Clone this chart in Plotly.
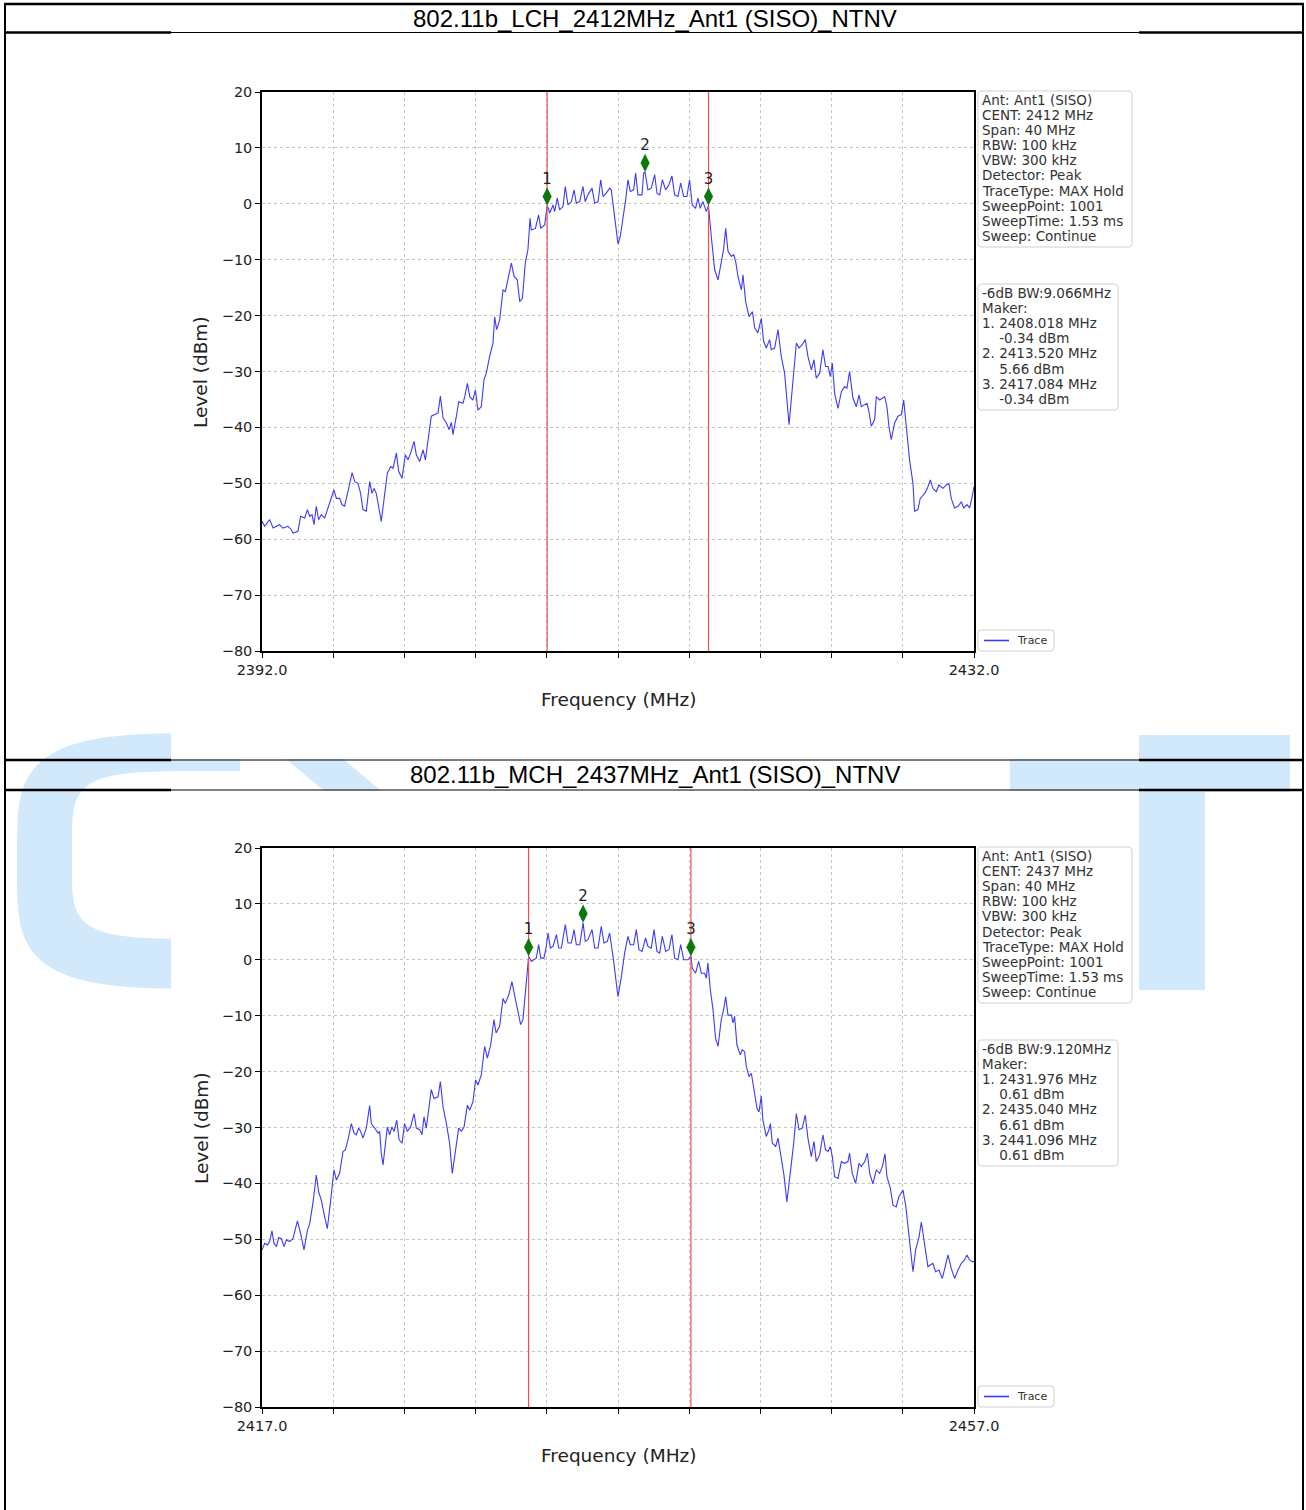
import numpy as np
import plotly.graph_objects as go

W, H = 1306, 1510

# ---------------- data ----------------
titles = ["802.11b_LCH_2412MHz_Ant1 (SISO)_NTNV", "802.11b_MCH_2437MHz_Ant1 (SISO)_NTNV"]
center_mhz = [2412, 2437]
span_mhz = 40
y_tick_values = [20, 10, 0, -10, -20, -30, -40, -50, -60, -70, -80]
y_range = [-80, 20]
bw_text = ["9.066MHz", "9.120MHz"]
marker_labels = ["1", "2", "3"]
legend_label = "Trace"

lch_marker_freq = [2408.018, 2413.520, 2417.084]
lch_marker_level = [-0.34, 5.66, -0.34]
mch_marker_freq = [2431.976, 2435.040, 2441.096]
mch_marker_level = [0.61, 6.61, 0.61]

settings_lines = ["Ant: Ant1 (SISO)", "CENT: {cent} MHz", "Span: 40 MHz", "RBW: 100 kHz",
                  "VBW: 300 kHz", "Detector: Peak", "TraceType: MAX Hold",
                  "SweepPoint: 1001", "SweepTime: 1.53 ms", "Sweep: Continue"]

lch_trace = [
    (2392.00, -56.8), (2392.15, -57.7), (2392.43, -56.5), (2392.62, -58.0), (2392.81, -57.7),
    (2392.99, -57.4), (2393.18, -58.0), (2393.46, -57.7), (2393.65, -58.3), (2393.74, -58.9),
    (2394.02, -58.6), (2394.17, -55.9), (2394.40, -56.2), (2394.55, -54.7), (2394.68, -55.9),
    (2394.81, -55.6), (2394.92, -57.4), (2395.05, -54.1), (2395.18, -56.5), (2395.33, -55.6),
    (2395.52, -56.2), (2395.75, -54.1), (2396.04, -51.2), (2396.18, -52.7), (2396.36, -52.7),
    (2396.49, -53.8), (2396.64, -54.1), (2396.83, -51.5), (2397.06, -48.1), (2397.21, -49.7),
    (2397.39, -50.0), (2397.54, -51.8), (2397.67, -54.7), (2397.86, -55.0), (2398.05, -49.7),
    (2398.18, -51.8), (2398.29, -50.9), (2398.42, -51.8), (2398.55, -54.1), (2398.70, -56.8),
    (2398.85, -53.0), (2399.04, -48.2), (2399.23, -47.0), (2399.36, -47.3), (2399.55, -44.6),
    (2399.68, -47.9), (2399.87, -49.1), (2400.05, -44.9), (2400.20, -45.8), (2400.35, -44.6),
    (2400.54, -42.5), (2400.67, -44.9), (2400.86, -46.1), (2401.05, -44.0), (2401.18, -45.8),
    (2401.33, -42.5), (2401.51, -38.0), (2401.70, -37.7), (2401.89, -37.4), (2402.02, -34.4),
    (2402.17, -38.3), (2402.36, -39.2), (2402.51, -40.4), (2402.64, -39.1), (2402.73, -41.3),
    (2402.92, -38.0), (2403.05, -35.4), (2403.29, -35.7), (2403.39, -34.5), (2403.54, -32.1),
    (2403.67, -34.5), (2403.85, -35.1), (2403.99, -33.3), (2404.13, -36.9), (2404.32, -36.3),
    (2404.47, -31.5), (2404.60, -30.3), (2404.79, -27.3), (2404.98, -24.9), (2405.07, -20.2),
    (2405.18, -22.5), (2405.35, -20.8), (2405.54, -15.4), (2405.67, -15.7), (2405.82, -13.3),
    (2406.01, -10.6), (2406.16, -13.0), (2406.34, -13.6), (2406.48, -17.5), (2406.63, -16.9),
    (2406.79, -10.6), (2406.94, -8.2), (2407.06, -2.6), (2407.13, -4.7), (2407.36, -4.4),
    (2407.54, -2.0), (2407.66, -4.4), (2407.88, -3.8), (2408.02, -0.34), (2408.10, -0.9),
    (2408.16, -1.7), (2408.35, -0.2), (2408.44, -1.4), (2408.59, 1.0), (2408.72, -1.1),
    (2408.91, -0.5), (2409.04, 3.1), (2409.19, -0.2), (2409.38, 0.4), (2409.53, 2.5),
    (2409.66, 0.1), (2409.85, 0.4), (2410.03, 3.1), (2410.16, 0.4), (2410.31, 1.6),
    (2410.54, 2.8), (2410.69, 0.1), (2410.88, 0.4), (2411.03, 4.3), (2411.16, 1.3),
    (2411.34, 1.9), (2411.53, 2.8), (2411.62, 2.5), (2411.81, -2.3), (2412.00, -7.2),
    (2412.13, -5.8), (2412.28, -2.9), (2412.43, 0.7), (2412.56, 4.3), (2412.69, 2.2),
    (2412.88, 2.5), (2412.99, 5.5), (2413.12, 1.6), (2413.35, 1.6), (2413.44, 5.5),
    (2413.52, 5.66), (2413.68, 2.5), (2413.87, 2.8), (2414.06, 5.2), (2414.19, 1.9),
    (2414.34, 1.6), (2414.49, 4.3), (2414.68, 2.5), (2414.86, 3.4), (2415.03, 5.0),
    (2415.18, 1.6), (2415.37, 1.3), (2415.52, 3.7), (2415.69, 1.3), (2415.87, 1.3),
    (2416.02, 4.3), (2416.17, -0.2), (2416.36, -0.8), (2416.49, 1.0), (2416.62, -0.8),
    (2416.77, 0.4), (2416.96, -1.4), (2417.08, -0.34), (2417.24, -5.8), (2417.43, -11.8),
    (2417.62, -13.6), (2417.80, -10.6), (2417.93, -8.2), (2418.05, -4.4), (2418.18, -8.5),
    (2418.37, -9.4), (2418.50, -9.1), (2418.61, -10.3), (2418.74, -13.0), (2418.93, -15.4),
    (2419.02, -12.7), (2419.17, -17.5), (2419.36, -20.2), (2419.55, -19.3), (2419.68, -22.2),
    (2419.86, -23.1), (2420.05, -20.5), (2420.18, -24.6), (2420.33, -25.8), (2420.52, -24.3),
    (2420.61, -26.1), (2420.80, -25.8), (2420.99, -22.5), (2421.17, -27.3), (2421.36, -30.3),
    (2421.61, -39.5), (2421.79, -32.7), (2422.02, -24.9), (2422.17, -25.8), (2422.35, -25.2),
    (2422.52, -24.3), (2422.67, -27.3), (2422.86, -29.7), (2423.01, -27.9), (2423.14, -31.2),
    (2423.33, -30.3), (2423.51, -26.1), (2423.66, -29.1), (2423.80, -29.1), (2423.93, -30.9),
    (2424.04, -28.5), (2424.17, -33.9), (2424.36, -36.6), (2424.55, -33.6), (2424.73, -32.7),
    (2424.86, -33.0), (2425.01, -30.0), (2425.20, -34.8), (2425.39, -36.3), (2425.54, -34.2),
    (2425.67, -36.3), (2425.86, -36.0), (2425.99, -35.7), (2426.10, -37.2), (2426.23, -39.8),
    (2426.42, -38.6), (2426.51, -34.5), (2426.70, -35.1), (2426.85, -34.8), (2426.98, -34.5),
    (2427.11, -36.3), (2427.22, -39.8), (2427.35, -42.2), (2427.54, -39.2), (2427.73, -38.0),
    (2427.92, -37.7), (2428.05, -35.1), (2428.20, -40.4), (2428.38, -45.8), (2428.57, -50.0),
    (2428.66, -55.0), (2428.85, -54.7), (2428.98, -52.7), (2429.23, -51.8), (2429.38, -50.9),
    (2429.55, -49.4), (2429.69, -50.9), (2429.88, -51.5), (2430.03, -50.3), (2430.26, -50.9),
    (2430.44, -50.3), (2430.59, -50.0), (2430.72, -52.7), (2430.91, -54.4), (2431.10, -54.1),
    (2431.29, -53.3), (2431.42, -54.4), (2431.60, -53.8), (2431.75, -54.4), (2431.90, -52.4),
    (2432.00, -50.6),
]

mch_trace = [
    (2417.00, -51.9), (2417.15, -50.7), (2417.30, -51.0), (2417.43, -50.4), (2417.56, -48.5),
    (2417.67, -50.7), (2417.81, -51.3), (2417.94, -49.7), (2418.09, -49.9), (2418.24, -51.3),
    (2418.37, -50.1), (2418.55, -50.4), (2418.74, -49.9), (2418.99, -46.7), (2419.17, -49.0),
    (2419.36, -51.9), (2419.55, -48.4), (2419.68, -47.2), (2419.87, -43.3), (2420.05, -38.5),
    (2420.18, -41.5), (2420.33, -43.0), (2420.52, -46.0), (2420.67, -48.1), (2420.86, -43.0),
    (2421.04, -37.6), (2421.18, -39.4), (2421.36, -38.2), (2421.55, -34.3), (2421.68, -34.0),
    (2421.83, -32.2), (2422.02, -29.3), (2422.17, -31.0), (2422.30, -31.3), (2422.43, -30.1),
    (2422.54, -30.7), (2422.67, -31.9), (2422.86, -30.1), (2423.05, -26.1), (2423.14, -29.3),
    (2423.33, -30.1), (2423.52, -31.0), (2423.61, -30.7), (2423.70, -34.6), (2423.80, -36.7),
    (2423.93, -33.4), (2424.04, -29.9), (2424.17, -31.3), (2424.30, -29.9), (2424.42, -30.7),
    (2424.57, -28.7), (2424.70, -32.2), (2424.87, -32.8), (2425.01, -29.3), (2425.16, -30.7),
    (2425.35, -29.9), (2425.54, -27.5), (2425.67, -30.1), (2425.86, -30.4), (2425.99, -31.3),
    (2426.10, -28.1), (2426.23, -30.1), (2426.36, -26.9), (2426.51, -23.2), (2426.66, -24.8),
    (2426.89, -24.5), (2427.02, -21.8), (2427.17, -26.3), (2427.36, -29.3), (2427.54, -32.8),
    (2427.69, -38.2), (2427.88, -34.0), (2428.05, -30.1), (2428.20, -30.7), (2428.35, -29.9),
    (2428.54, -26.0), (2428.67, -26.9), (2428.85, -25.4), (2429.00, -21.5), (2429.13, -22.4),
    (2429.32, -20.6), (2429.51, -15.5), (2429.66, -17.6), (2429.85, -15.2), (2430.03, -10.7),
    (2430.15, -13.1), (2430.35, -11.9), (2430.54, -6.9), (2430.67, -7.8), (2430.86, -6.3),
    (2431.04, -3.9), (2431.19, -6.3), (2431.38, -9.6), (2431.53, -11.6), (2431.66, -10.7),
    (2431.79, -6.0), (2431.90, -2.4), (2431.98, 0.61), (2432.13, -0.3), (2432.28, 0.0),
    (2432.41, 0.3), (2432.54, 2.7), (2432.66, 0.3), (2432.84, 0.3), (2432.97, 2.4),
    (2433.07, 4.8), (2433.20, 2.1), (2433.35, 2.4), (2433.54, 4.5), (2433.67, 2.1),
    (2433.82, 2.1), (2434.04, 6.3), (2434.19, 3.0), (2434.38, 3.0), (2434.53, 5.4),
    (2434.66, 2.7), (2434.85, 2.7), (2435.04, 6.61), (2435.16, 3.3), (2435.31, 3.6),
    (2435.54, 5.4), (2435.69, 2.1), (2435.88, 2.1), (2436.06, 6.0), (2436.21, 3.0),
    (2436.40, 3.3), (2436.53, 4.8), (2436.72, 0.6), (2436.90, -4.2), (2437.00, -6.6),
    (2437.19, -3.0), (2437.37, 1.2), (2437.56, 4.2), (2437.69, 2.7), (2437.88, 2.7),
    (2438.03, 5.4), (2438.18, 1.8), (2438.35, 1.5), (2438.55, 3.9), (2438.68, 2.4),
    (2438.87, 2.1), (2439.02, 5.4), (2439.19, 1.5), (2439.34, 1.2), (2439.49, 4.2),
    (2439.68, 1.5), (2439.86, 1.8), (2440.03, 4.5), (2440.18, 0.3), (2440.37, 0.0),
    (2440.52, 2.7), (2440.69, 0.0), (2440.93, 0.0), (2441.10, 0.61), (2441.17, -1.5),
    (2441.36, -2.4), (2441.53, -0.3), (2441.68, -2.4), (2441.87, -2.4), (2441.96, -3.3),
    (2442.05, -0.6), (2442.19, -5.4), (2442.34, -9.0), (2442.48, -14.0), (2442.62, -15.5),
    (2442.80, -10.7), (2442.93, -9.0), (2443.05, -6.6), (2443.18, -9.9), (2443.37, -9.9),
    (2443.46, -11.3), (2443.55, -10.1), (2443.68, -15.2), (2443.87, -17.0), (2443.98, -16.1),
    (2444.11, -16.4), (2444.21, -19.1), (2444.36, -20.9), (2444.49, -20.3), (2444.68, -24.5),
    (2444.81, -26.6), (2444.92, -27.2), (2445.05, -24.4), (2445.14, -28.7), (2445.33, -31.6),
    (2445.48, -30.4), (2445.56, -29.3), (2445.67, -32.8), (2445.86, -33.4), (2445.99, -31.9),
    (2446.12, -34.6), (2446.31, -38.2), (2446.49, -43.3), (2446.68, -38.2), (2446.87, -32.8),
    (2447.02, -27.5), (2447.17, -30.4), (2447.35, -30.1), (2447.52, -27.8), (2447.67, -31.9),
    (2447.86, -35.2), (2448.01, -32.5), (2448.14, -36.1), (2448.33, -34.9), (2448.51, -31.3),
    (2448.66, -34.0), (2448.80, -34.3), (2448.93, -33.4), (2449.04, -35.2), (2449.17, -38.8),
    (2449.36, -39.1), (2449.55, -36.1), (2449.73, -36.4), (2449.92, -36.1), (2450.01, -34.6),
    (2450.16, -38.2), (2450.35, -40.0), (2450.54, -36.4), (2450.67, -37.0), (2450.86, -36.1),
    (2451.01, -34.6), (2451.14, -38.2), (2451.32, -40.1), (2451.51, -37.6), (2451.70, -38.2),
    (2451.85, -37.0), (2452.00, -34.7), (2452.11, -38.8), (2452.30, -40.9), (2452.45, -43.9),
    (2452.63, -44.2), (2452.78, -42.4), (2453.01, -41.2), (2453.16, -43.9), (2453.35, -49.6),
    (2453.57, -55.8), (2453.72, -51.9), (2453.91, -49.6), (2454.04, -46.9), (2454.23, -51.3),
    (2454.41, -54.9), (2454.54, -54.6), (2454.69, -54.3), (2454.84, -55.8), (2455.03, -55.5),
    (2455.22, -57.0), (2455.35, -55.2), (2455.54, -52.8), (2455.72, -55.2), (2455.91, -57.0),
    (2456.10, -55.5), (2456.29, -54.3), (2456.47, -53.7), (2456.60, -52.8), (2456.75, -53.7),
    (2456.90, -54.0), (2457.00, -54.0),
]

# ---------------- layout constants (pixels) ----------------
PLOT_L, PLOT_R = 262, 974
PANEL_TOP = [92, 848]
PLOT_H = 559
MARKER_LIFT_DB = 1.65
WM_COLOR = "rgb(210,232,251)"
TRACE_COLOR = "rgb(60,60,245)"
FONT_CHART = "DejaVu Sans"
FONT_TABLE = "Liberation Sans, Arial"


def px(x):
    return x / W


def py(y):
    return 1 - y / H


fig = go.Figure()

panels = [
    (lch_trace, lch_marker_freq, lch_marker_level),
    (mch_trace, mch_marker_freq, mch_marker_level),
]

shapes = []
annotations = []


# ---- watermark (decoration) ----
def superellipse(cx, cy, rx, ry, n, t):
    c, s = np.cos(t), np.sin(t)
    x = cx + rx * np.sign(c) * np.abs(c) ** (2 / n)
    y = cy - ry * np.sign(s) * np.abs(s) ** (2 / n)
    return x, y


def poly_path(xs, ys):
    pts = [f"{px(x):.5f},{py(y):.5f}" for x, y in zip(xs, ys)]
    return "M " + " L ".join(pts) + " Z"


t = np.linspace(np.pi / 2, 3 * np.pi / 2, 80)
ox, oy = superellipse(240, 861, 223, 128, 4, t)
ix, iy = superellipse(240, 855, 168, 84, 5, t[::-1])
shapes.append(dict(type="path", xref="paper", yref="paper", layer="below",
                   path=poly_path(np.r_[ox, ix], np.r_[oy, iy]),
                   fillcolor=WM_COLOR, line=dict(width=0)))
shapes.append(dict(type="path", xref="paper", yref="paper", layer="below",
                   path=poly_path([255, 312, 392, 335], [733, 733, 800, 800]),
                   fillcolor=WM_COLOR, line=dict(width=0)))
shapes.append(dict(type="path", xref="paper", yref="paper", layer="below",
                   path=poly_path([1010, 1290, 1290, 1205, 1205, 1100, 1100, 1010],
                                  [735, 735, 792, 792, 990, 990, 792, 792]),
                   fillcolor=WM_COLOR, line=dict(width=0)))

# white chart-image areas
for (y0, y1) in [(33, 759), (791, 1510)]:
    shapes.append(dict(type="rect", xref="paper", yref="paper", layer="below",
                       x0=px(171), x1=px(1139), y0=py(y1), y1=py(y0),
                       fillcolor="white", line=dict(width=0)))


# ---- table lines ----
def hline(y, x0, x1, w, color="black"):
    shapes.append(dict(type="line", xref="paper", yref="paper", x0=px(x0), x1=px(x1),
                       y0=py(y), y1=py(y), line=dict(color=color, width=w)))


def vline(x, y0, y1, w):
    shapes.append(dict(type="line", xref="paper", yref="paper", x0=px(x), x1=px(x),
                       y0=py(y0), y1=py(y1), line=dict(color="black", width=w)))


hline(4, 4, 1304, 2.5)
for yy in (32.5, 760, 790):
    hline(yy, 4, 171, 2.5)
    hline(yy, 1139, 1304, 2.5)
    hline(yy, 171, 1139, 1)
vline(5, 3, 1510, 2)
vline(1303, 3, 1510, 2)

title_y = [18, 775]
for i, ttl in enumerate(titles):
    annotations.append(dict(text=ttl, x=px(655), y=py(title_y[i]), xref="paper", yref="paper",
                            xanchor="center", yanchor="middle", showarrow=False,
                            font=dict(family=FONT_TABLE, size=24, color="black")))


def rrect_path(x0, y0, x1, y1, r=4):
    P = lambda x, y: f"{px(x):.5f},{py(y):.5f}"
    return (f"M {P(x0 + r, y0)} L {P(x1 - r, y0)} Q {P(x1, y0)} {P(x1, y0 + r)} "
            f"L {P(x1, y1 - r)} Q {P(x1, y1)} {P(x1 - r, y1)} L {P(x0 + r, y1)} "
            f"Q {P(x0, y1)} {P(x0, y1 - r)} L {P(x0, y0 + r)} Q {P(x0, y0)} {P(x0 + r, y0)} Z")


layout_axes = {}
for k, (trace, mfreq, mlevel) in enumerate(panels):
    top = PANEL_TOP[k]
    off = top - PANEL_TOP[0]
    lo = center_mhz[k] - span_mhz / 2
    hi = center_mhz[k] + span_mhz / 2
    xname = "x" if k == 0 else f"x{k + 1}"
    yname = "y" if k == 0 else f"y{k + 1}"
    xkey = "xaxis" if k == 0 else f"xaxis{k + 1}"
    ykey = "yaxis" if k == 0 else f"yaxis{k + 1}"

    freq = [p[0] for p in trace]
    level = [p[1] for p in trace]

    fig.add_trace(go.Scatter(x=freq, y=level, mode="lines", name=legend_label,
                             line=dict(color=TRACE_COLOR, width=1.1),
                             xaxis=xname, yaxis=yname, showlegend=False))
    for f in (mfreq[0], mfreq[-1]):
        fig.add_trace(go.Scatter(x=[f, f], y=y_range, mode="lines",
                                 line=dict(color="rgb(240,80,80)", width=1.2),
                                 xaxis=xname, yaxis=yname, showlegend=False, hoverinfo="skip"))
    fig.add_trace(go.Scatter(x=mfreq, y=[v + MARKER_LIFT_DB for v in mlevel],
                             mode="markers+text", text=marker_labels, textposition="top center",
                             textfont=dict(family=FONT_CHART, size=15, color="#222"),
                             marker=dict(symbol="diamond-tall", size=13, color="rgb(10,120,10)"),
                             xaxis=xname, yaxis=yname, showlegend=False, cliponaxis=False))

    xt = list(np.linspace(lo, hi, 11))
    xlabels = [f"{lo:.1f}"] + [""] * 9 + [f"{hi:.1f}"]
    common = dict(
        ticks="outside", ticklen=5, tickwidth=1.2, tickcolor="black",
        showline=True, linecolor="black", linewidth=1.5, mirror=True,
        showgrid=True, gridcolor="#c6c6c6", gridwidth=0.8, griddash="3px,3px",
        zeroline=False, automargin=False,
        tickfont=dict(family=FONT_CHART, size=14.5, color="#222"),
    )
    layout_axes[xkey] = dict(domain=[px(PLOT_L), px(PLOT_R)], anchor=yname, range=[lo, hi],
                             tickmode="array", tickvals=xt, ticktext=xlabels, **common)
    layout_axes[ykey] = dict(domain=[py(top + PLOT_H), py(top)], anchor=xname, range=y_range,
                             tickmode="array", tickvals=y_tick_values, **common)

    # axis titles
    annotations.append(dict(text="Level (dBm)", x=px(201), y=py(372 + off), xref="paper",
                            yref="paper", textangle=-90, showarrow=False,
                            xanchor="center", yanchor="middle",
                            font=dict(family=FONT_CHART, size=18.5, color="#222")))
    annotations.append(dict(text="Frequency (MHz)", x=px(618), y=py(699 + off), xref="paper",
                            yref="paper", showarrow=False, xanchor="center", yanchor="middle",
                            font=dict(family=FONT_CHART, size=18.5, color="#222")))

    # settings info box
    shapes.append(dict(type="path", xref="paper", yref="paper",
                       path=rrect_path(978, 91 + off, 1132, 247 + off),
                       fillcolor="white", line=dict(color="#cfcfcf", width=1)))
    for i, line in enumerate(settings_lines):
        annotations.append(dict(text=line.format(cent=center_mhz[k]), x=px(980),
                                y=py(100 + off + 15.1 * i), xref="paper", yref="paper",
                                xanchor="left", yanchor="middle", showarrow=False,
                                font=dict(family=FONT_CHART, size=13.5, color="#333")))

    # marker info box
    ind = "\u00a0" * 4
    mlines = [f"-6dB BW:{bw_text[k]}", "Maker:"]
    for j in range(3):
        mlines.append(f"{j + 1}. {mfreq[j]:.3f} MHz")
        mlines.append(f"{ind}{mlevel[j]:.2f} dBm")
    shapes.append(dict(type="path", xref="paper", yref="paper",
                       path=rrect_path(978, 284 + off, 1118, 410 + off),
                       fillcolor="white", line=dict(color="#cfcfcf", width=1)))
    for i, line in enumerate(mlines):
        annotations.append(dict(text=line, x=px(980), y=py(293 + off + 15.1 * i),
                                xref="paper", yref="paper", xanchor="left",
                                yanchor="middle", showarrow=False,
                                font=dict(family=FONT_CHART, size=13.5, color="#333")))

    # legend box
    shapes.append(dict(type="path", xref="paper", yref="paper",
                       path=rrect_path(978, 630 + off, 1054, 651 + off, r=3),
                       fillcolor="white", line=dict(color="#cfcfcf", width=1)))
    hline(640.5 + off, 984, 1009, 1.6, color=TRACE_COLOR)
    annotations.append(dict(text=legend_label, x=px(1015), y=py(640.5 + off), xref="paper",
                            yref="paper", xanchor="left", yanchor="middle", showarrow=False,
                            font=dict(family=FONT_CHART, size=11, color="#333")))

fig.update_layout(
    width=W, height=H, autosize=False, margin=dict(l=0, r=0, t=0, b=0, pad=0),
    paper_bgcolor="white", plot_bgcolor="rgba(0,0,0,0)", showlegend=False,
    shapes=shapes, annotations=annotations, **layout_axes,
)

fig.write_html(
    "out.html", config={"displayModeBar": False, "responsive": False},
    post_script=("document.documentElement.style.margin='0';document.documentElement.style.padding='0';"
                 "document.body.style.margin='0';document.body.style.padding='0';"
                 "document.documentElement.style.overflow='hidden';document.body.style.overflow='hidden';"
                 "var g=document.getElementsByClassName('plotly-graph-div')[0];"
                 "g.style.position='absolute';g.style.left='0px';g.style.top='0px';"),
)
